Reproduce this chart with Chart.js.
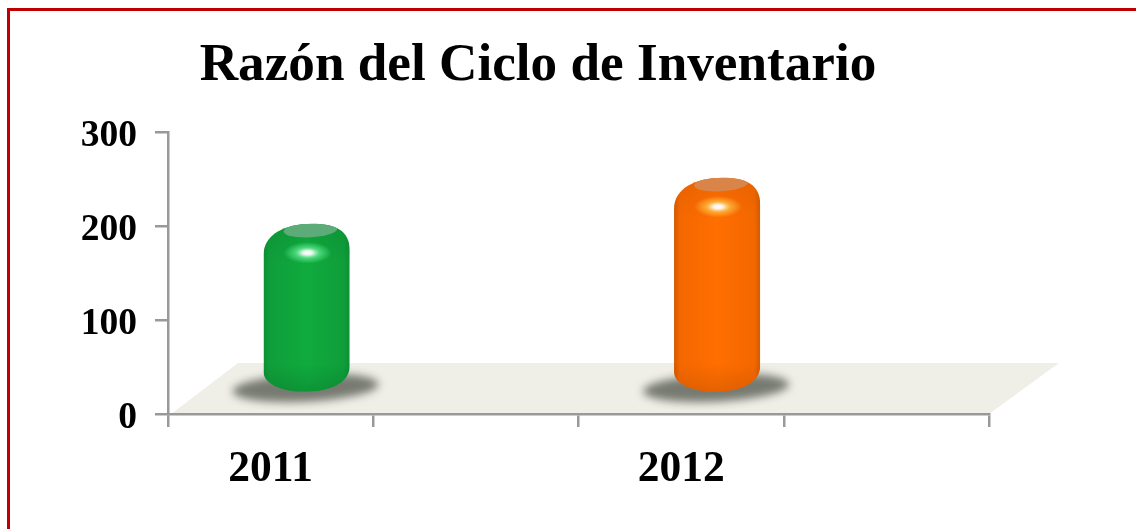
<!DOCTYPE html>
<html>
<head>
<meta charset="utf-8">
<script src="https://cdn.jsdelivr.net/npm/chart.js@4/dist/chart.umd.min.js"></script>
<style>
  html, body { margin: 0; padding: 0; background: #fff; overflow: hidden; }
  #frame { position: absolute; left: 7px; top: 8px; width: 1140px; height: 540px;
           border-left: 3px solid #c00000; border-top: 3px solid #c00000; }
  #plot { position: absolute; left: 0; top: 0; }
</style>
</head>
<body>
<div id="frame"></div>
<canvas id="plot" width="1136" height="529"></canvas>
<script>
const chartTitle = 'Razón del Ciclo de Inventario';
const categories = ['2011', '', '2012', ''];
const ratioValues = [180, null, 229, null];
const barColors = ['#10ab3e', null, '#ff6e00', null];
const valueTicks = [0, 100, 200, 300];

// Shades used to model each capsule
const shades = {
  '#10ab3e': { edge: '#0d8f35', rim: '#0f9e3a', dark: 'rgba(6,100,36,', cap: '#5cab78', glow: '120,255,170' },
  '#ff6e00': { edge: '#d25a00', rim: '#f46800', dark: 'rgba(170,70,0,', cap: '#d9854a', glow: '255,220,90' }
};

// Pseudo-3D floor depth and the shift of bars onto it
const floorDepthX = 70, floorDepthY = 51;
const barShiftX = 36, barShiftY = 21;

class CapsuleElement extends Chart.BarElement {
  static id = 'capsule';
  draw(ctx) {
    const { x: cx, y: top, base, width } = this.getProps(['x', 'y', 'base', 'width'], true);
    if (this.skip || !isFinite(top)) return;
    const paint = shades[this.options.backgroundColor];
    const x = cx + barShiftX, T = top - barShiftY, B = base - barShiftY;
    const L = x - width / 2, R = x + width / 2;

    // cast shadow on the floor
    ctx.save();
    ctx.filter = 'blur(4px)';
    ctx.fillStyle = '#777a70';
    ctx.beginPath();
    ctx.ellipse(x - 1, B - 4, 73, 14, -0.05, 0, Math.PI * 2);
    ctx.fill();
    ctx.restore();

    // capsule outline
    ctx.save();
    ctx.beginPath();
    ctx.moveTo(L, T + 31);
    ctx.bezierCurveTo(L, T + 11, x - 22, T, x + 5, T);
    ctx.bezierCurveTo(x + 28, T, R, T + 6, R, T + 27);
    ctx.lineTo(R, B - 26);
    ctx.bezierCurveTo(R, B - 8, x + 22, B, x - 3, B);
    ctx.bezierCurveTo(x - 25, B, L, B - 8, L, B - 20);
    ctx.closePath();
    ctx.clip();

    // horizontal body shading
    const body = ctx.createLinearGradient(L, 0, R, 0);
    body.addColorStop(0, paint.edge);
    body.addColorStop(0.07, paint.rim);
    body.addColorStop(0.5, this.options.backgroundColor);
    body.addColorStop(0.93, paint.rim);
    body.addColorStop(1, paint.edge);
    ctx.fillStyle = body;
    ctx.fillRect(L, T, width, B - T);

    // darker rounding at the bottom
    const foot = ctx.createLinearGradient(0, B - 28, 0, B);
    foot.addColorStop(0, paint.dark + '0)');
    foot.addColorStop(1, paint.dark + '0.3)');
    ctx.fillStyle = foot;
    ctx.fillRect(L, B - 28, width, 28);

    // darker rounding at the shoulder
    const shoulder = ctx.createLinearGradient(0, T, 0, T + 40);
    shoulder.addColorStop(0, paint.dark + '0.18)');
    shoulder.addColorStop(1, paint.dark + '0)');
    ctx.fillStyle = shoulder;
    ctx.fillRect(L, T, width, 40);

    // flat top face
    ctx.fillStyle = paint.cap;
    ctx.filter = 'blur(0.6px)';
    ctx.beginPath();
    ctx.ellipse(x + 4, T + 6, 27, 7.5, -0.06, 0, Math.PI * 2);
    ctx.fill();
    ctx.filter = 'none';

    // specular highlight
    ctx.translate(x + 1, T + 29);
    ctx.scale(1, 0.45);
    const glow = ctx.createRadialGradient(0, 0, 0, 0, 0, 24);
    glow.addColorStop(0, 'rgba(255,255,255,1)');
    glow.addColorStop(0.2, 'rgba(255,255,255,0.9)');
    glow.addColorStop(0.5, 'rgba(' + paint.glow + ',0.55)');
    glow.addColorStop(1, 'rgba(' + paint.glow + ',0)');
    ctx.fillStyle = glow;
    ctx.beginPath();
    ctx.arc(0, 0, 24, 0, Math.PI * 2);
    ctx.fill();
    ctx.restore();
  }
}

class CapsuleController extends Chart.BarController {
  static id = 'capsuleBar';
  static defaults = { ...Chart.BarController.defaults, dataElementType: 'capsule' };
}

Chart.register(CapsuleElement, CapsuleController);

const floorPlugin = {
  id: 'floor',
  beforeDraw(chart) {
    const { ctx, chartArea: a } = chart;
    ctx.save();
    ctx.fillStyle = '#efefe7';
    ctx.beginPath();
    ctx.moveTo(a.left + 3, a.bottom);
    ctx.lineTo(a.right, a.bottom);
    ctx.lineTo(a.right + floorDepthX, a.bottom - floorDepthY);
    ctx.lineTo(a.left + floorDepthX, a.bottom - floorDepthY);
    ctx.closePath();
    ctx.fill();
    ctx.restore();
  }
};

const axisGrey = '#999999';
new Chart(document.getElementById('plot'), {
  type: 'capsuleBar',
  data: {
    labels: categories,
    datasets: [{
      data: ratioValues,
      yAxisID: 'y',
      backgroundColor: barColors,
      categoryPercentage: 1,
      barPercentage: 0.42
    }]
  },
  plugins: [floorPlugin],
  options: {
    responsive: false,
    animation: false,
    layout: { padding: { left: 0, right: 60, top: 0, bottom: 0 } },
    plugins: {
      legend: { display: false },
      tooltip: { enabled: false },
      title: {
        display: true,
        text: chartTitle,
        color: '#000',
        font: { family: '"Liberation Serif"', size: 53.2, weight: 'bold', lineHeight: 1.2 },
        padding: { top: 34, bottom: 34.2 }
      }
    },
    scales: {
      x: {
        type: 'category',
        offset: true,
        afterFit(scale) { scale.height = 115; },
        grid: { offset: true, drawOnChartArea: false, drawTicks: true, tickLength: 13, color: axisGrey, lineWidth: 2.5 },
        border: { color: axisGrey, width: 2.5 },
        ticks: {
          color: '#000',
          autoSkip: false,
          maxRotation: 0,
          padding: 17,
          font: { family: '"Liberation Serif"', size: 43.5, weight: 'bold' }
        }
      },
      y: {
        min: 0,
        max: 300,
        afterFit(scale) { scale.width = 168; },
        afterBuildTicks(scale) { scale.ticks = valueTicks.map(v => ({ value: v })); },
        grid: { drawOnChartArea: false, drawTicks: true, tickLength: 13, color: axisGrey, lineWidth: 2.5 },
        border: { color: axisGrey, width: 2.5 },
        ticks: {
          color: '#000',
          padding: 18,
          // the empty first line drops each number slightly below its tick centre
          callback: v => ['', String(v)],
          font: { family: '"Liberation Serif"', size: 37.5, weight: 'bold', lineHeight: 0.22 }
        }
      },
      // empty right-hand gutter that leaves room for the floor's receding edge
      gutter: {
        type: 'linear',
        axis: 'y',
        position: 'right',
        min: 0,
        max: 300,
        afterFit(scale) { scale.width = 87; },
        grid: { display: false },
        border: { display: false },
        ticks: { display: false }
      }
    }
  }
});
</script>
</body>
</html>
